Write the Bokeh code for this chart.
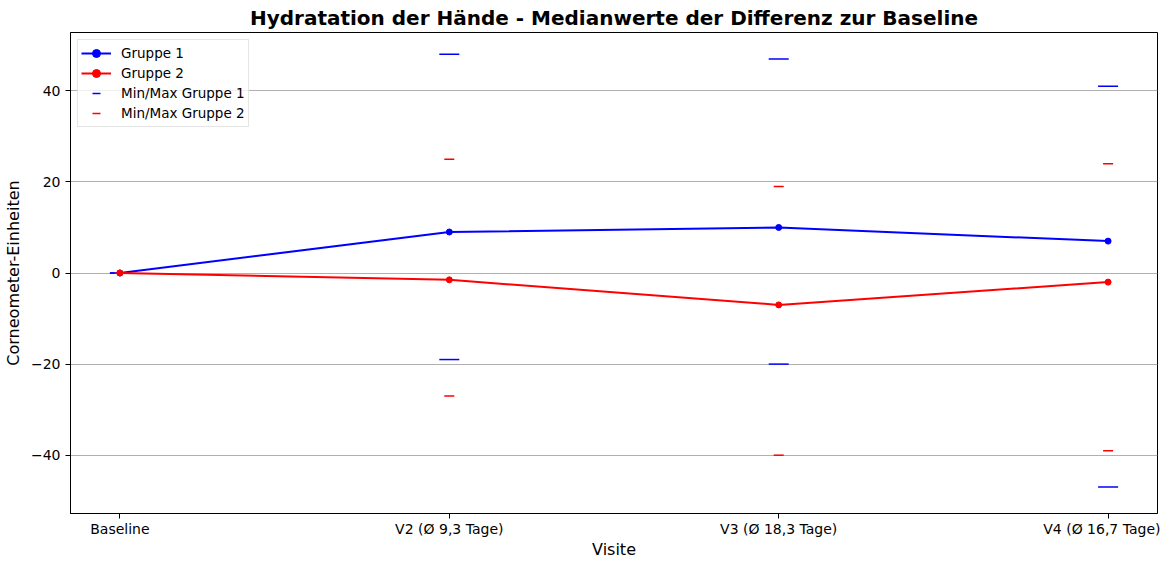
from bokeh.plotting import figure
from bokeh.models import Range1d, FixedTicker, Legend, LegendItem
from bokeh.embed import file_html
from bokeh.resources import INLINE

visits = ["Baseline", "V2 (Ø 9,3 Tage)", "V3 (Ø 18,3 Tage)", "V4 (Ø 16,7 Tage)"]
g1_median = [0, 9, 10, 7]
g2_median = [0, -1.5, -7, -2]
g1_max = [0, 48, 47, 41]
g1_min = [0, -19, -20, -47]
g2_max = [0, 25, 19, 24]
g2_min = [0, -27, -40, -39]
y_ticks = [-40, -20, 0, 20, 40]

xs = list(range(len(visits)))
FONT = "DejaVu Sans"

p = figure(width=1160, height=561, output_backend="svg", toolbar_location=None,
           x_range=Range1d(-0.15, 3.15), y_range=Range1d(-52.8, 52.8),
           min_border_left=65, min_border_right=3, min_border_top=12, min_border_bottom=0,
           title="Hydratation der Hände - Medianwerte der Differenz zur Baseline")

p.title.text_font = FONT
p.title.text_font_size = "20px"
p.title.text_font_style = "bold"
p.title.align = "center"
p.title.text_color = "black"
p.title.standoff = 6

p.outline_line_color = "black"
p.outline_line_width = 1
p.background_fill_color = "white"
p.border_fill_color = "white"

p.xgrid.visible = False
p.ygrid.grid_line_color = "#b0b0b0"
p.ygrid.grid_line_width = 1
p.ygrid.ticker = FixedTicker(ticks=y_ticks)

p.xaxis.ticker = FixedTicker(ticks=xs)
p.xaxis.major_label_overrides = {i: v for i, v in enumerate(visits)}
p.yaxis.ticker = FixedTicker(ticks=y_ticks)
p.yaxis.major_label_overrides = {t: (str(t).replace("-", "\u2212")) for t in y_ticks}

for ax in (p.xaxis[0], p.yaxis[0]):
    ax.axis_line_color = "black"
    ax.major_tick_line_color = "black"
    ax.major_tick_out = 5
    ax.major_tick_in = 0
    ax.minor_tick_line_color = None
    ax.major_label_text_font = FONT
    ax.major_label_text_font_size = "14px"
    ax.major_label_text_color = "black"
    ax.axis_label_text_font = FONT
    ax.axis_label_text_font_size = "16px"
    ax.axis_label_text_font_style = "normal"
    ax.axis_label_text_color = "black"

p.xaxis.axis_label = "Visite"
p.yaxis.axis_label = "Corneometer-Einheiten"
p.xaxis.major_label_standoff = 2
p.xaxis.axis_label_standoff = 0
p.yaxis.major_label_standoff = 5
p.yaxis.axis_label_standoff = 5

# min / max markers
mm1a = p.scatter(xs, g1_max, marker="dash", size=20, line_color="blue", line_width=1.5)
mm1b = p.scatter(xs, g1_min, marker="dash", size=20, line_color="blue", line_width=1.5)
mm2a = p.scatter(xs, g2_max, marker="dash", size=10, line_color="red", line_width=1.5)
mm2b = p.scatter(xs, g2_min, marker="dash", size=10, line_color="red", line_width=1.5)

l1 = p.line(xs, g1_median, line_color="blue", line_width=2)
c1 = p.scatter(xs, g1_median, marker="circle", size=6, fill_color="blue", line_color="blue")
l2 = p.line(xs, g2_median, line_color="red", line_width=2)
c2 = p.scatter(xs, g2_median, marker="circle", size=6, fill_color="red", line_color="red")

legend = Legend(items=[
    LegendItem(label="Gruppe 1", renderers=[l1, c1]),
    LegendItem(label="Gruppe 2", renderers=[l2, c2]),
    LegendItem(label="Min/Max Gruppe 1", renderers=[mm1a]),
    LegendItem(label="Min/Max Gruppe 2", renderers=[mm2a]),
], location="top_left")
legend.label_text_font = FONT
legend.label_text_font_size = "13.5px"
legend.label_text_color = "black"
legend.border_line_color = "#cccccc"
legend.border_line_width = 1
legend.background_fill_alpha = 0.8
legend.margin = 7
legend.padding = 3
legend.spacing = 0
legend.label_height = 20
legend.glyph_height = 20
legend.glyph_width = 30
legend.label_standoff = 10
p.add_layout(legend)

open("out.html", "w").write(file_html(p, INLINE))
